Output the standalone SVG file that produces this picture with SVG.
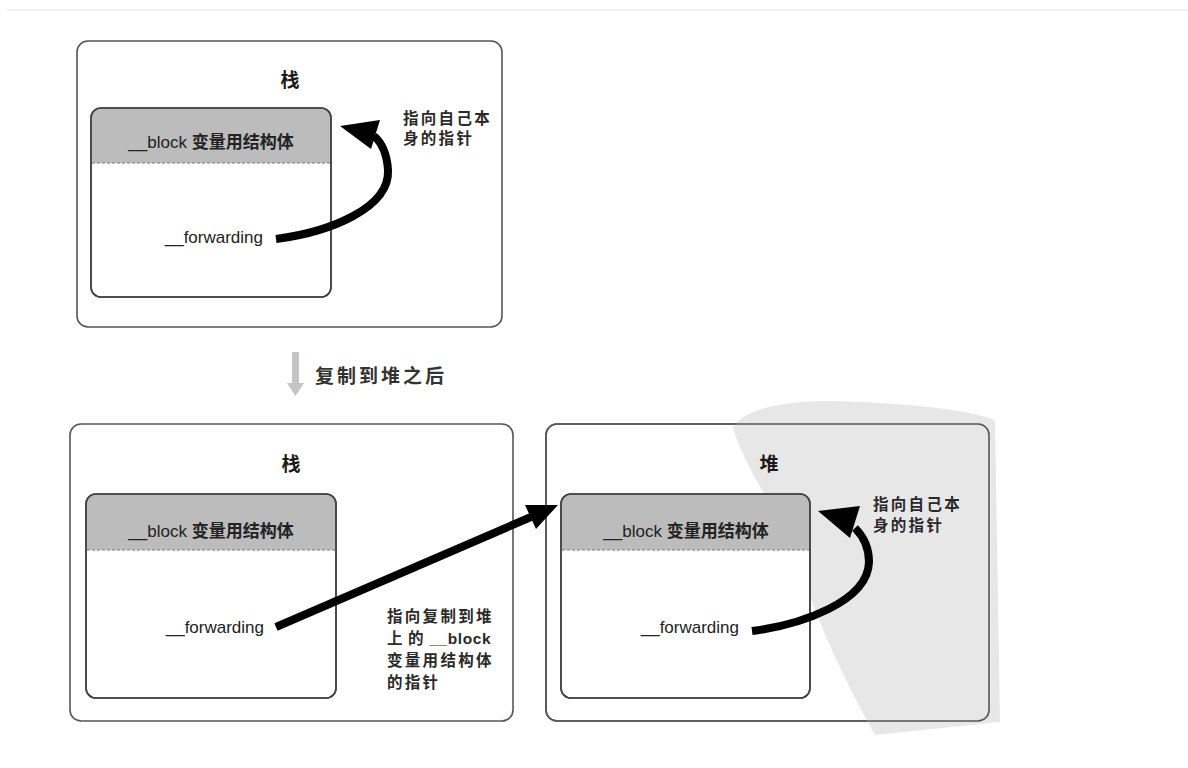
<svg xmlns="http://www.w3.org/2000/svg" width="1188" height="768" viewBox="0 0 1188 768">
<style>
.outer{fill:#fff;stroke:#555;stroke-width:1.6}
.inner{fill:#fff;stroke:#444;stroke-width:1.6}
.hdr{fill:#bcbcbc}
.dash{stroke:#777;stroke-width:1.2;stroke-dasharray:3 2;fill:none}
.title{font-family:"Liberation Sans","Noto Sans CJK SC",sans-serif;font-weight:bold;font-size:19px;fill:#1a1a1a}
.lbl{font-family:"Liberation Sans","Noto Sans CJK SC",sans-serif;font-size:17px;fill:#222}
.cjk{font-weight:bold}
.note{font-family:"Liberation Sans","Noto Sans CJK SC",sans-serif;font-size:15.5px;font-weight:bold;fill:#2a2a2a;letter-spacing:2.3px}
.shaft{fill:none;stroke:#000;stroke-width:8}
.head{fill:#000}
</style>
<rect width="1188" height="768" fill="#fff"/>
<line x1="7" y1="10" x2="1188" y2="10" stroke="#f0f0f0" stroke-width="2"/>

<g id="stack-top">
<rect class="outer" x="77" y="41" width="425" height="286" rx="11"/>
<text class="title" x="290" y="87" text-anchor="middle">栈</text>
</g>
<g id="struct-top">
<rect class="inner" x="91" y="108" width="240" height="189" rx="10"/>
<path class="hdr" d="M92,163 V118 Q92,109 101,109 H321 Q330,109 330,118 V163 Z"/>
<rect x="91" y="108" width="240" height="189" rx="10" fill="none" stroke="#444" stroke-width="1.6"/>
<line class="dash" x1="92" y1="163" x2="330" y2="163"/>
<text class="lbl" x="211" y="148" text-anchor="middle">__block <tspan class="cjk">变量用结构体</tspan></text>
<text class="lbl" x="263" y="243" text-anchor="end">__forwarding</text>
</g>
<g id="note-top">
<text class="note" x="403" y="124">指向自己本</text>
<text class="note" x="403" y="144">身的指针</text>
</g>

<g id="copy-step">
<rect x="292" y="352" width="7" height="32" fill="#c4c4c4"/>
<polygon points="287,383 304,383 295.5,396" fill="#c4c4c4"/>
<text x="315" y="383" font-family="Liberation Sans,'Noto Sans CJK SC',sans-serif" font-size="19" font-weight="bold" fill="#333" letter-spacing="3">复制到堆之后</text>
</g>

<g id="stack-bottom">
<rect class="outer" x="70" y="424" width="443" height="297" rx="11"/>
<text class="title" x="291" y="471" text-anchor="middle">栈</text>
</g>
<g id="struct-stack">
<rect class="inner" x="86" y="494" width="250" height="204" rx="10"/>
<path class="hdr" d="M87,550 V504 Q87,495 96,495 H326 Q335,495 335,504 V550 Z"/>
<rect x="86" y="494" width="250" height="204" rx="10" fill="none" stroke="#444" stroke-width="1.6"/>
<line class="dash" x1="87" y1="550" x2="335" y2="550"/>
<text class="lbl" x="211" y="537" text-anchor="middle">__block <tspan class="cjk">变量用结构体</tspan></text>
<text class="lbl" x="264" y="633" text-anchor="end">__forwarding</text>
</g>
<g id="note-copy">
<text class="note" x="387" y="622">指向复制到堆</text>
<text class="note" x="387" y="644" textLength="106" lengthAdjust="spacing" letter-spacing="0">上 的 __block</text>
<text class="note" x="387" y="666">变量用结构体</text>
<text class="note" x="387" y="688">的指针</text>
</g>

<g id="heap">
<rect class="outer" x="546" y="424" width="443" height="297" rx="11"/>
<path d="M733,428 C745,405 800,398 860,402 C920,405 970,410 995,420 L1000,722 L875,735 C850,690 820,630 805,580 C785,520 745,470 733,428 Z" fill="#e7e7e7"/>
<rect x="546" y="424" width="443" height="297" rx="11" fill="none" stroke="#555" stroke-width="1.6"/>
<text class="title" x="769" y="471" text-anchor="middle">堆</text>
</g>
<g id="struct-heap">
<rect class="inner" x="561" y="494" width="249" height="204" rx="10"/>
<path class="hdr" d="M562,550 V504 Q562,495 571,495 H800 Q809,495 809,504 V550 Z"/>
<rect x="561" y="494" width="249" height="204" rx="10" fill="none" stroke="#444" stroke-width="1.6"/>
<line class="dash" x1="562" y1="550" x2="809" y2="550"/>
<text class="lbl" x="686" y="537" text-anchor="middle">__block <tspan class="cjk">变量用结构体</tspan></text>
<text class="lbl" x="739" y="633" text-anchor="end">__forwarding</text>
</g>
<g id="note-heap">
<text class="note" x="873" y="510">指向自己本</text>
<text class="note" x="873" y="531">身的指针</text>
</g>

<g id="connectors">
<path class="shaft" d="M276,239 C330,232 390,208 388,170 C387,154 382,143 374,136"/>
<polygon class="head" points="340,126 380,120 371,149"/>
<path class="shaft" d="M276,627 L531,517"/>
<polygon class="head" points="558,505 536,529 525,505"/>
<path class="shaft" d="M752,631 C800,625 868,602 869,562 C869,546 862,535 855,528"/>
<polygon class="head" points="818,511 860,506 850,538"/>
</g>
</svg>
